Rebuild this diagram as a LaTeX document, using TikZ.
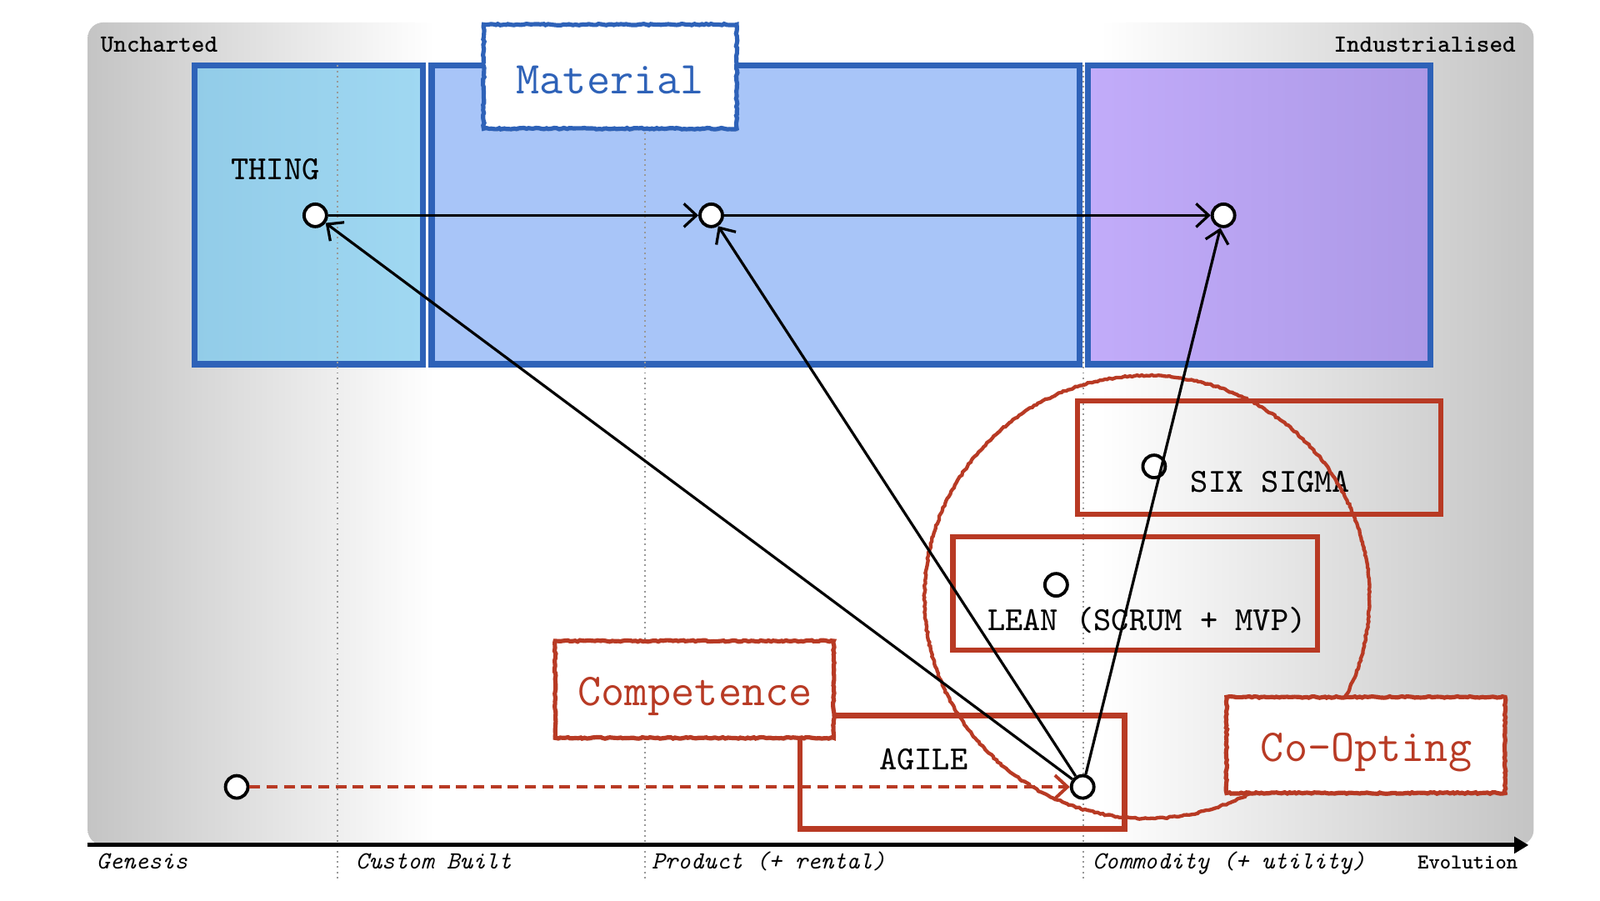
\documentclass[tikz,border=0pt]{standalone}
\usetikzlibrary{arrows.meta,decorations.pathmorphing,shadows}

\definecolor{mapblue}{RGB}{46,98,184}
\definecolor{mapred}{RGB}{184,58,36}
\definecolor{bggray}{RGB}{196,196,196}
\definecolor{cyanL}{RGB}{146,204,232}
\definecolor{cyanR}{RGB}{160,216,242}
\definecolor{midblue}{RGB}{168,197,248}
\definecolor{purpL}{RGB}{194,172,250}
\definecolor{purpR}{RGB}{172,152,230}

\pgfdeclarehorizontalshading{bgshade}{100bp}{color(0bp)=(bggray); color(25bp)=(bggray); color(37bp)=(white); color(60bp)=(white); color(75bp)=(bggray); color(100bp)=(bggray)}

\tikzset{
	bluebox/.style={draw=mapblue, line width=1.7pt},
	redbox/.style={draw=mapred, line width=1.5pt},
	rough/.style={decorate, decoration={random steps, segment length=0.7pt, amplitude=0.2pt}},
	tagbox/.style={line width=1.2pt, rough, fill=white, drop shadow={opacity=0.2, shadow xshift=0.5pt, shadow yshift=-0.7pt}},
	wdot/.style={circle, draw=black, fill=white, line width=0.9pt, minimum size=0.22cm, inner sep=0pt},
	flow/.style={->, line width=0.75pt},
	labeltxt/.style={font=\ttfamily\fontsize{9.4}{11}\selectfont, inner sep=0pt},
	tagtxt/.style={font=\ttfamily\fontsize{12.7}{15}\selectfont, inner sep=0pt},
	axislbl/.style={font=\ttfamily\itshape\fontsize{6.9}{8}\selectfont, inner sep=0pt, anchor=base west},
	cornerlbl/.style={font=\ttfamily\bfseries\fontsize{6.9}{8}\selectfont, inner sep=0pt},
}

\begin{document}
\begin{tikzpicture}[>={Straight Barb[length=3.5pt,width=6.5pt]}]
			%%%%% START %%%%%
			
			\useasboundingbox (0,0) rectangle (15.68,8.82);
			\shade[shading=bgshade, rounded corners=0.15cm] (0.86,0.54) rectangle (15.03,8.60);
			
			% stages of the material
			\draw[bluebox, left color=cyanL, right color=cyanR] (1.905,8.18) rectangle (4.145,5.25);
			\draw[bluebox, fill=midblue] (4.23,8.18) rectangle (10.58,5.25);
			\draw[bluebox, left color=purpL, right color=purpR] (10.66,8.18) rectangle (14.02,5.25);
			
			\foreach \x in {3.31,6.32,10.62}
				\draw[gray!80, densely dotted, line width=0.45pt] (\x,8.18) -- (\x,0.18);
			
			\draw[tagbox, draw=mapblue] (4.74,8.58) rectangle (7.22,7.56);
			\node[tagtxt, text=mapblue] (material) at (5.98,8.04) {Material};
			
			\node[cornerlbl, anchor=west] (uncharted) at (0.98,8.38) {Uncharted};
			\node[cornerlbl, anchor=east] (industrial) at (14.86,8.38) {Industrialised};
			
			% evolution axis
			\coordinate (axisL) at (0.86,0.54);
			\coordinate (axisR) at (14.98,0.54);
			\draw[line width=1.2pt, -{Triangle[length=4pt,width=4.5pt]}] (axisL) -- (axisR);
			
			\node[axislbl] (genesis) at (0.94,0.31) {Genesis};
			\node[axislbl] (custom) at (3.48,0.31) {Custom Built};
			\node[axislbl] (productlbl) at (6.38,0.31) {Product (+ rental)};
			\node[axislbl] (commoditylbl) at (10.70,0.31) {Commodity (+ utility)};
			\node[cornerlbl, anchor=base east, font=\ttfamily\bfseries\fontsize{5.9}{7}\selectfont] (evolution) at (14.88,0.31) {Evolution};
			
			% practices
			\draw[redbox] (10.56,4.89) rectangle (14.12,3.78);
			\draw[redbox] (9.34,3.56) rectangle (12.91,2.45);
			\draw[redbox] (7.84,1.81) rectangle (11.02,0.70);
			
			\node[labeltxt] (thingtxt) at (2.70,7.16) {THING};
			\node[labeltxt] (sigmatxt) at (12.45,4.10) {SIX SIGMA};
			\node[labeltxt] (leantxt) at (11.24,2.74) {LEAN (SCRUM + MVP)};
			\node[labeltxt] (agiletxt) at (9.05,1.38) {AGILE};
			
			\draw[mapred, line width=1pt, rough] (11.24,2.97) ellipse (2.18 and 2.17);
			
			\draw[tagbox, draw=mapred] (5.44,2.54) rectangle (8.17,1.59);
			\node[tagtxt, text=mapred] (competence) at (6.81,2.00) {Competence};
			
			\draw[tagbox, draw=mapred] (12.02,1.99) rectangle (14.75,1.05);
			\node[tagtxt, text=mapred] (coopting) at (13.39,1.45) {Co-Opting};
			
			% components
			\node[wdot] (thing) at (3.09,6.71) {};
			\node[wdot] (product) at (6.97,6.71) {};
			\node[wdot] (commodity) at (11.99,6.71) {};
			\node[wdot] (sixsigma) at (11.31,4.25) {};
			\node[wdot] (lean) at (10.35,3.09) {};
			\node[wdot] (agile) at (10.61,1.11) {};
			\node[wdot] (start) at (2.32,1.11) {};
			
			\draw[flow] (thing) -- (product);
			\draw[flow] (product) -- (commodity);
			\draw[flow] (agile) -- (thing);
			\draw[flow] (agile) -- (product);
			\draw[flow] (agile) -- (commodity);
			\draw[flow, mapred, line width=0.9pt, dash pattern=on 3pt off 1.8pt] (start) -- (agile);
			
			%%%%% END %%%%%
		\end{tikzpicture}
\end{document}
